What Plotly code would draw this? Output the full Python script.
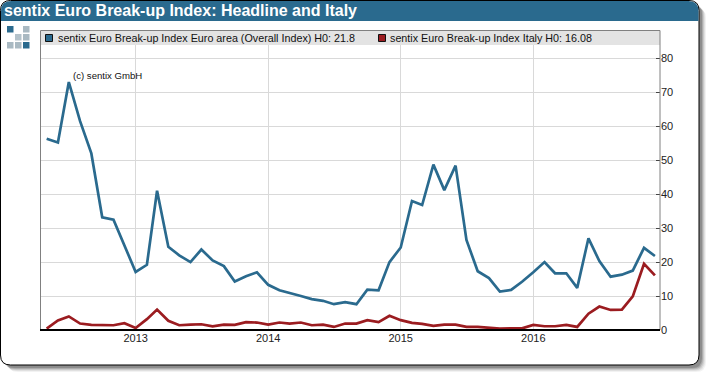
import plotly.graph_objects as go

W, H = 710, 376

title = "sentix Euro Break-up Index: Headline and Italy"
note = "(c) sentix GmbH"
name_euro = "sentix Euro Break-up Index Euro area (Overall Index) H0: 21.8"
name_italy = "sentix Euro Break-up Index Italy H0: 16.08"

months = [f"{y}-{m:02d}-01" for y in range(2012, 2017) for m in range(1, 13)][4:]

euro_area = [56.3, 55.2, 73.0, 61.5, 52.0, 33.2, 32.5, 25.0,
             17.1, 19.2, 41.0, 24.5, 22.0, 20.0, 23.7, 20.5, 18.8, 14.3, 15.8, 17.0,
             13.3, 11.7, 11.0, 10.0, 9.1, 8.6, 7.6, 8.2, 7.6, 11.9, 11.7, 20.0,
             24.3, 38.0, 36.8, 48.7, 41.2, 48.4, 26.5, 17.3, 15.3, 11.3, 11.8, 14.2,
             17.0, 20.0, 16.7, 16.7, 12.4, 27.0, 20.3, 15.7, 16.3, 17.5, 24.2, 21.8]
italy = [0.4, 2.8, 4.0, 1.9, 1.5, 1.5, 1.4, 2.0,
         0.6, 3.2, 6.0, 2.7, 1.4, 1.6, 1.7, 1.1, 1.6, 1.5, 2.3, 2.2,
         1.6, 2.2, 1.9, 2.2, 1.4, 1.6, 0.9, 1.9, 1.9, 2.9, 2.3, 4.2,
         2.9, 2.1, 1.8, 1.2, 1.6, 1.6, 0.9, 0.9, 0.7, 0.4, 0.5, 0.5,
         1.5, 1.1, 1.1, 1.5, 0.9, 4.8, 6.9, 5.9, 6.0, 9.9, 19.5, 16.08]

year_ticks = ["2013-01-01", "2014-01-01", "2015-01-01", "2016-01-01"]
year_labels = ["2013", "2014", "2015", "2016"]
y_ticks = [0, 10, 20, 30, 40, 50, 60, 70, 80]

BLUE = "#2a6a8e"
RED = "#9b1c20"
FONT = "Liberation Sans, Arial, sans-serif"


def px(x):
    return x / W


def py(y):
    return 1 - y / H


def round_rect(x0, y0, x1, y1, r):
    pts = [
        f"M{px(x0 + r)},{py(y0)}", f"L{px(x1 - r)},{py(y0)}",
        f"Q{px(x1)},{py(y0)} {px(x1)},{py(y0 + r)}", f"L{px(x1)},{py(y1 - r)}",
        f"Q{px(x1)},{py(y1)} {px(x1 - r)},{py(y1)}", f"L{px(x0 + r)},{py(y1)}",
        f"Q{px(x0)},{py(y1)} {px(x0)},{py(y1 - r)}", f"L{px(x0)},{py(y0 + r)}",
        f"Q{px(x0)},{py(y0)} {px(x0 + r)},{py(y0)}", "Z",
    ]
    return " ".join(pts)


def header_path(x0, y0, x1, y1, r):
    return " ".join([
        f"M{px(x0)},{py(y1)}", f"L{px(x0)},{py(y0 + r)}",
        f"Q{px(x0)},{py(y0)} {px(x0 + r)},{py(y0)}", f"L{px(x1 - r)},{py(y0)}",
        f"Q{px(x1)},{py(y0)} {px(x1)},{py(y0 + r)}", f"L{px(x1)},{py(y1)}", "Z",
    ])


def box(x0, y0, x1, y1, layer="below", **kw):
    return dict(type="rect", xref="paper", yref="paper", x0=px(x0), x1=px(x1),
                y0=py(y1), y1=py(y0), layer=layer, **kw)


shapes = []
# card shadow
for off, alpha in [(7, 0.05), (6, 0.07), (5, 0.10), (4, 0.14), (3, 0.18)]:
    shapes.append(dict(type="path", xref="paper", yref="paper", layer="below",
                       path=round_rect(1 + off, 1 + off, 699 + off, 365 + off, 10),
                       fillcolor=f"rgba(0,0,0,{alpha})", line_width=0))
# card
shapes.append(dict(type="path", xref="paper", yref="paper", layer="below",
                   path=round_rect(0.5, 0.5, 699, 365, 10),
                   fillcolor="white", line=dict(color="black", width=1)))
shapes.append(dict(type="path", xref="paper", yref="paper", layer="below",
                   path=header_path(1, 1, 698.5, 21, 10), fillcolor=BLUE, line_width=0))
# logo
logo = [(7, 26, BLUE), (23, 26, "#a9b9c2"), (15, 34, "#b4c2ca"), (23, 34, "#a9b9c2"),
        (7, 42, "#a9b9c2"), (15, 42, "#a9b9c2"), (23, 42, BLUE)]
for lx, ly, col in logo:
    shapes.append(box(lx, ly, lx + 6.5, ly + 6.5, fillcolor=col, line_width=0))
# legend bar
shapes.append(box(41, 31, 660, 45, layer="above", fillcolor="#e3e3e3", line_width=0))
# legend swatches
shapes.append(box(45.5, 34.5, 52.5, 41.5, layer="above", fillcolor=BLUE,
                  line=dict(color="#111111", width=1)))
shapes.append(box(378.5, 34.5, 385.5, 41.5, layer="above", fillcolor=RED,
                  line=dict(color="#111111", width=1)))

fig = go.Figure()
fig.add_trace(go.Scatter(x=months, y=euro_area, mode="lines", name=name_euro,
                         line=dict(color=BLUE, width=2.7)))
fig.add_trace(go.Scatter(x=months, y=italy, mode="lines", name=name_italy,
                         line=dict(color=RED, width=2.7)))

annotations = [
    dict(text=f"<b>{title}</b>", x=px(2.3), y=py(10.5), xref="paper", yref="paper",
         xanchor="left", yanchor="middle", showarrow=False,
         font=dict(family=FONT, size=16, color="white")),
    dict(text=name_euro, x=px(55.5), y=py(38), xref="paper", yref="paper",
         xanchor="left", yanchor="middle", showarrow=False,
         font=dict(family=FONT, size=10.75, color="#111111")),
    dict(text=name_italy, x=px(388), y=py(38), xref="paper", yref="paper",
         xanchor="left", yanchor="middle", showarrow=False,
         font=dict(family=FONT, size=10.75, color="#111111")),
    dict(text=note, x=px(70.5), y=py(75.5), xref="paper", yref="paper",
         xanchor="left", yanchor="middle", showarrow=False,
         font=dict(family=FONT, size=9.6, color="#111111")),
]

fig.update_layout(
    width=W, height=H, autosize=False,
    margin=dict(l=0, r=0, t=0, b=0),
    paper_bgcolor="white", plot_bgcolor="rgba(0,0,0,0)",
    showlegend=False, shapes=shapes, annotations=annotations,
    font=dict(family=FONT, size=11, color="#222222"),
    xaxis=dict(
        domain=[px(40.5), px(660)], automargin=False,
        type="date",
        range=["2012-04-14", "2016-12-15"],
        tickmode="array", tickvals=year_ticks, ticktext=year_labels,
        showgrid=True, gridcolor="#d9d9d9", gridwidth=1,
        ticks="", zeroline=False, showline=False,
    ),
    yaxis=dict(
        domain=[py(330), py(30.5)], automargin=False,
        range=[0, 88.2], side="right", anchor="x",
        tickmode="array", tickvals=y_ticks,
        showgrid=True, gridcolor="#d9d9d9", gridwidth=1,
        ticks="inside", ticklen=4, tickcolor="#444444", tickwidth=1,
        zeroline=False, showline=False,
    ),
)

# frame: axis lines drawn over the plot
fig.add_shape(type="line", xref="paper", yref="paper", x0=px(40.5), x1=px(40.5),
              y0=py(330), y1=py(30.5), line=dict(color="#808080", width=1), layer="above")
fig.add_shape(type="line", xref="paper", yref="paper", x0=px(40.5), x1=px(660),
              y0=py(30.5), y1=py(30.5), line=dict(color="#808080", width=1), layer="above")
fig.add_shape(type="line", xref="paper", yref="paper", x0=px(660), x1=px(660),
              y0=py(330), y1=py(30.5), line=dict(color="#808080", width=1), layer="above")
fig.add_shape(type="line", xref="paper", yref="paper", x0=px(40), x1=px(660),
              y0=py(330), y1=py(330), line=dict(color="black", width=2), layer="above")

fig.write_html("out.html", config={"displayModeBar": False},
               post_script="document.body.style.margin='0';document.body.style.overflow='hidden';")
